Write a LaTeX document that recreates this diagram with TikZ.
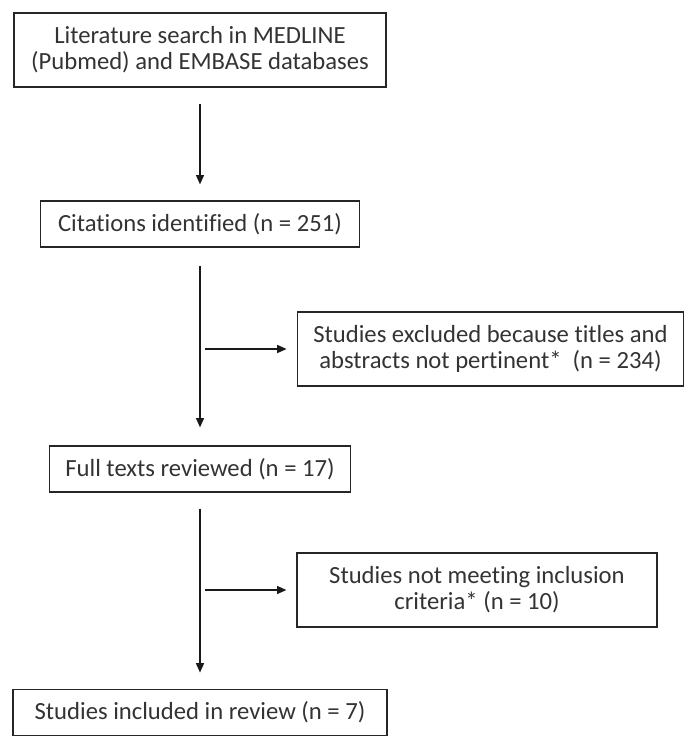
\documentclass[tikz,border=0pt]{standalone}
\usepackage{fontspec}
\setmainfont{Carlito}[RawFeature=-liga]
\usetikzlibrary{arrows.meta}
\usetikzlibrary{positioning}

\begin{document}
\begin{tikzpicture}[x=0.75pt,y=-0.75pt,
                font=\fontsize{18.5}{19.5}\selectfont,
                block/.style={rectangle, draw=black!85, line width=0.9pt, align=center, text=black!80, inner sep=0pt},
                arrow/.style={draw, line width=0.9pt, black!90, -{Triangle[length=7pt,width=6pt]}}
            ]
            \useasboundingbox (0,0) rectangle (696,748);
            \node[block, minimum width=279pt, minimum height=55.5pt](search) at (200,50)
                {Literature search in MEDLINE\\(Pubmed) and EMBASE databases};
            \node[block, minimum width=239pt, minimum height=34.5pt](cited) at (200,224)
                {Citations identified (n = 251)};
            \node[block, minimum width=290pt, minimum height=55.5pt](excl) at (490.5,349)
                {Studies excluded because titles and\\abstracts not pertinent*~ (n = 234)};
            \node[block, minimum width=226pt, minimum height=34.5pt](full) at (200,469)
                {Full texts reviewed (n = 17)};
            \node[block, minimum width=270pt, minimum height=55.5pt](notmet) at (477,590)
                {Studies not meeting inclusion\\criteria* (n = 10)};
            \node[block, minimum width=280.5pt, minimum height=34pt](incl) at (200,712.5)
                {Studies included in review (n = 7)};
            \coordinate (j1) at (cited.south |- excl.west);
            \coordinate (j2) at (full.south |- notmet.west);
            \path[arrow, shorten <=12pt, shorten >=12pt] (search) -- (cited);
            \path[arrow, shorten <=13.5pt, shorten >=13.5pt] (cited) -- (full);
            \path[arrow, shorten <=12pt, shorten >=12.5pt] (full) -- (incl);
            \path[arrow, shorten <=3.75pt, shorten >=7.5pt] (j1) -- (excl);
            \path[arrow, shorten <=3.75pt, shorten >=7.5pt] (j2) -- (notmet);
        \end{tikzpicture}
\end{document}
